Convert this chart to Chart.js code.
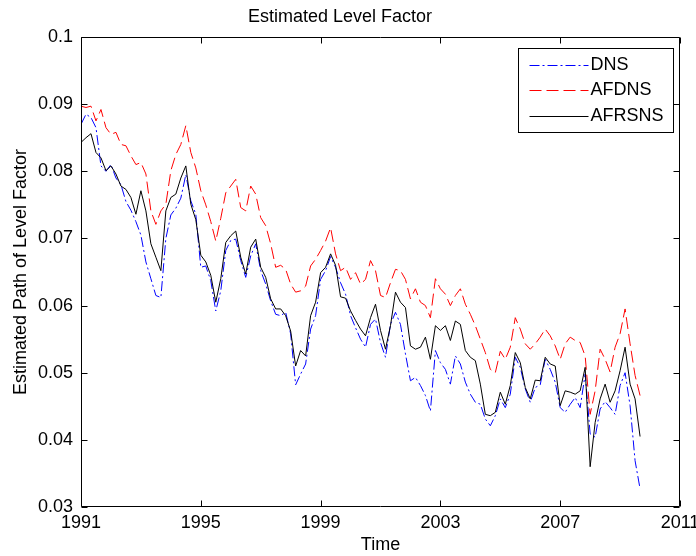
<!DOCTYPE html>
<html>
<head>
<meta charset="utf-8">
<title>Estimated Level Factor</title>
<script src="https://cdn.jsdelivr.net/npm/chart.js@4.4.1/dist/chart.umd.min.js"></script>
<style>
  html, body { margin: 0; padding: 0; background: #fff; }
  #wrap { width: 696px; height: 556px; }
</style>
</head>
<body>
<div id="wrap"><canvas id="levelChart" width="696" height="556"></canvas></div>
<script>
// Samples every two months, starting Jan 1991
const startYear = 1991;
const stepYears = 1 / 6;

const dnsValues = [
    0.0870, 0.0885, 0.0880, 0.0865, 0.0808, 0.0800, 0.0810, 0.0790, 0.0780, 0.0755,
    0.0742, 0.0725, 0.0705, 0.0665, 0.0640, 0.0615, 0.0612, 0.0700, 0.0735, 0.0745,
    0.0760, 0.0795, 0.0756, 0.0736, 0.0657, 0.0659, 0.0637, 0.0592, 0.0622, 0.0682,
    0.0697, 0.0699, 0.0667, 0.0642, 0.0674, 0.0692, 0.0652, 0.0632, 0.0607, 0.0587,
    0.0585, 0.0590, 0.0558, 0.0482, 0.0498, 0.0513, 0.0565, 0.0585, 0.0639, 0.0652,
    0.0673, 0.0657, 0.0634, 0.0617, 0.0585, 0.0567, 0.0550, 0.0538, 0.0572, 0.0580,
    0.0545, 0.0523, 0.0572, 0.0590, 0.0572, 0.0528, 0.0488, 0.0493, 0.0481, 0.0466,
    0.0443, 0.0533, 0.0515, 0.0505, 0.0483, 0.0525, 0.0513, 0.0486, 0.0468, 0.0456,
    0.0453, 0.0431, 0.0421, 0.0436, 0.0461, 0.0448, 0.0468, 0.0523, 0.0508, 0.0476,
    0.0456, 0.0478, 0.0482, 0.0520, 0.0505, 0.0486, 0.0448, 0.0441, 0.0453, 0.0463,
    0.0448, 0.0498, 0.0409, 0.0404, 0.0446, 0.0457, 0.0448, 0.0438, 0.0481, 0.0500,
    0.0451, 0.0369, 0.0327
];

const afdnsValues = [
    0.0897, 0.0895, 0.0897, 0.0875, 0.0892, 0.0865, 0.0855, 0.0858, 0.0840, 0.0838,
    0.0823, 0.0810, 0.0813, 0.0796, 0.0741, 0.0721, 0.0741, 0.0751, 0.0801, 0.0825,
    0.0840, 0.0868, 0.0828, 0.0805, 0.0771, 0.0750, 0.0725, 0.0696, 0.0730, 0.0768,
    0.0778, 0.0788, 0.0746, 0.0741, 0.0778, 0.0766, 0.0731, 0.0719, 0.0692, 0.0657,
    0.0660, 0.0654, 0.0632, 0.0620, 0.0622, 0.0629, 0.0659, 0.0669, 0.0682, 0.0696,
    0.0716, 0.0677, 0.0652, 0.0657, 0.0639, 0.0649, 0.0632, 0.0639, 0.0667, 0.0652,
    0.0615, 0.0612, 0.0634, 0.0654, 0.0652, 0.0639, 0.0610, 0.0625, 0.0605, 0.0600,
    0.0582, 0.0640, 0.0625, 0.0617, 0.0600, 0.0615, 0.0625, 0.0602, 0.0587, 0.0570,
    0.0550, 0.0530, 0.0505, 0.0500, 0.0532, 0.0520, 0.0538, 0.0582, 0.0565, 0.0543,
    0.0535, 0.0543, 0.0553, 0.0565, 0.0555, 0.0540, 0.0520, 0.0543, 0.0553, 0.0548,
    0.0545, 0.0525, 0.0438, 0.0473, 0.0535, 0.0520, 0.0501, 0.0538, 0.0558, 0.0595,
    0.0543, 0.0496, 0.0466
];

const afrsnsValues = [
    0.0843, 0.0850, 0.0856, 0.0828, 0.0820, 0.0801, 0.0808, 0.0796, 0.0778, 0.0773,
    0.0761, 0.0736, 0.0771, 0.0741, 0.0692, 0.0672, 0.0652, 0.0741, 0.0761, 0.0766,
    0.0790, 0.0808, 0.0751, 0.0728, 0.0675, 0.0665, 0.0645, 0.0605, 0.0640, 0.0694,
    0.0704, 0.0711, 0.0672, 0.0647, 0.0687, 0.0699, 0.0657, 0.0642, 0.0610, 0.0595,
    0.0595, 0.0585, 0.0562, 0.0510, 0.0533, 0.0525, 0.0585, 0.0605, 0.0649, 0.0657,
    0.0677, 0.0660, 0.0613, 0.0611, 0.0592, 0.0578, 0.0565, 0.0555, 0.0582, 0.0602,
    0.0563, 0.0535, 0.0570, 0.0620, 0.0605, 0.0597, 0.0540, 0.0535, 0.0538, 0.0553,
    0.0520, 0.0570, 0.0563, 0.0570, 0.0548, 0.0577, 0.0572, 0.0533, 0.0523, 0.0518,
    0.0483, 0.0438, 0.0436, 0.0441, 0.0471, 0.0453, 0.0481, 0.0530, 0.0515, 0.0478,
    0.0461, 0.0489, 0.0488, 0.0523, 0.0513, 0.0510, 0.0451, 0.0473, 0.0471, 0.0468,
    0.0473, 0.0508, 0.0360, 0.0426, 0.0461, 0.0483, 0.0456, 0.0473, 0.0503, 0.0538,
    0.0483, 0.0461, 0.0405
];

const seriesLabels = ['DNS', 'AFDNS', 'AFRSNS'];
const xTicks = [1991, 1995, 1999, 2003, 2007, 2011];
const yTicks = [0.03, 0.04, 0.05, 0.06, 0.07, 0.08, 0.09, 0.1];

const FONT = 'Liberation Sans, Arial, Helvetica, sans-serif';

function toPoints(values) {
    return values.map((v, i) => ({ x: startYear + i * stepYears, y: v }));
}

// MATLAB style box with inward ticks on all four sides
const axesBox = {
    id: 'axesBox',
    afterDatasetsDraw(chart) {
        const { ctx, chartArea: a, scales } = chart;
        const tickLen = 6;
        const l = Math.round(a.left) + 0.5, r = Math.round(a.right) - 0.5;
        const t = Math.round(a.top) + 0.5, b = Math.round(a.bottom) - 0.5;
        ctx.save();
        ctx.strokeStyle = '#000';
        ctx.lineWidth = 1;
        ctx.beginPath();
        ctx.rect(l, t, r - l, b - t);
        xTicks.forEach(v => {
            const px = Math.round(scales.x.getPixelForValue(v)) + 0.5;
            ctx.moveTo(px, b); ctx.lineTo(px, b - tickLen);
            ctx.moveTo(px, t); ctx.lineTo(px, t + tickLen);
        });
        yTicks.forEach(v => {
            const py = Math.round(scales.y.getPixelForValue(v)) + 0.5;
            ctx.moveTo(l, py); ctx.lineTo(l + tickLen, py);
            ctx.moveTo(r, py); ctx.lineTo(r - tickLen, py);
        });
        ctx.stroke();
        ctx.restore();
    }
};

// Boxed legend in the top right corner of the axes
const boxLegend = {
    id: 'boxLegend',
    afterDraw(chart) {
        const { ctx, chartArea: a } = chart;
        const left = Math.round(a.right) - 162 + 0.5;
        const top = Math.round(a.top) + 11 + 0.5;
        const w = 155, h = 84;
        ctx.save();
        ctx.fillStyle = '#fff';
        ctx.fillRect(left, top, w, h);
        ctx.strokeStyle = '#000';
        ctx.lineWidth = 1;
        ctx.strokeRect(left, top, w, h);
        ctx.font = '18px ' + FONT;
        ctx.textBaseline = 'middle';
        ctx.textAlign = 'left';
        chart.data.datasets.forEach((ds, i) => {
            const cy = Math.round(top + 16 + i * 25.5) + 0.5;
            ctx.beginPath();
            ctx.setLineDash(ds.borderDash || []);
            ctx.strokeStyle = ds.borderColor;
            ctx.moveTo(left + 11, cy);
            ctx.lineTo(left + 70, cy);
            ctx.stroke();
            ctx.setLineDash([]);
            ctx.fillStyle = '#000';
            ctx.fillText(ds.label, left + 72, cy);
        });
        ctx.restore();
    }
};

const ctx = document.getElementById('levelChart').getContext('2d');

new Chart(ctx, {
    type: 'line',
    data: {
        datasets: [
            {
                label: seriesLabels[0],
                data: toPoints(dnsValues),
                borderColor: 'rgb(0, 0, 255)',
                borderDash: [10, 3, 2, 3],
                order: 3
            },
            {
                label: seriesLabels[1],
                data: toPoints(afdnsValues),
                borderColor: 'rgb(255, 0, 0)',
                borderDash: [12, 5],
                order: 2
            },
            {
                label: seriesLabels[2],
                data: toPoints(afrsnsValues),
                borderColor: 'rgb(0, 0, 0)',
                borderDash: [],
                order: 1
            }
        ]
    },
    options: {
        responsive: false,
        animation: false,
        layout: { padding: { left: 0, right: 16, top: 0, bottom: 0 } },
        elements: {
            point: { radius: 0 },
            line: { borderWidth: 1, tension: 0, fill: false }
        },
        plugins: {
            legend: { display: false },
            tooltip: { enabled: false },
            title: {
                display: true,
                text: 'Estimated Level Factor',
                color: '#000',
                font: { family: FONT, size: 18, weight: 'normal' },
                padding: { top: 6, bottom: 9.4 }
            }
        },
        scales: {
            x: {
                type: 'linear',
                min: 1991,
                max: 2011,
                grid: { display: false, drawTicks: false },
                border: { display: false },
                afterBuildTicks: s => { s.ticks = xTicks.map(v => ({ value: v })); },
                afterFit: s => { s.height = 49; s.paddingLeft = 0; s.paddingRight = 0; },
                ticks: {
                    color: '#000',
                    font: { family: FONT, size: 18 },
                    padding: 5,
                    maxRotation: 0,
                    autoSkip: false,
                    callback: v => String(v)
                },
                title: {
                    display: true,
                    text: 'Time',
                    color: '#000',
                    font: { family: FONT, size: 18 },
                    padding: { top: 0, bottom: 0 }
                }
            },
            y: {
                min: 0.03,
                max: 0.1,
                grid: { display: false, drawTicks: false },
                border: { display: false },
                afterBuildTicks: s => { s.ticks = yTicks.map(v => ({ value: v })); },
                afterFit: s => { s.width = 81; s.paddingTop = 0; s.paddingBottom = 0; },
                ticks: {
                    color: '#000',
                    font: { family: FONT, size: 18 },
                    padding: 8,
                    callback: v => String(+v.toFixed(2))
                },
                title: {
                    display: true,
                    text: 'Estimated Path of Level Factor',
                    color: '#000',
                    font: { family: FONT, size: 18 },
                    padding: { top: 10, bottom: 0 }
                }
            }
        }
    },
    plugins: [axesBox, boxLegend]
});
</script>
</body>
</html>
